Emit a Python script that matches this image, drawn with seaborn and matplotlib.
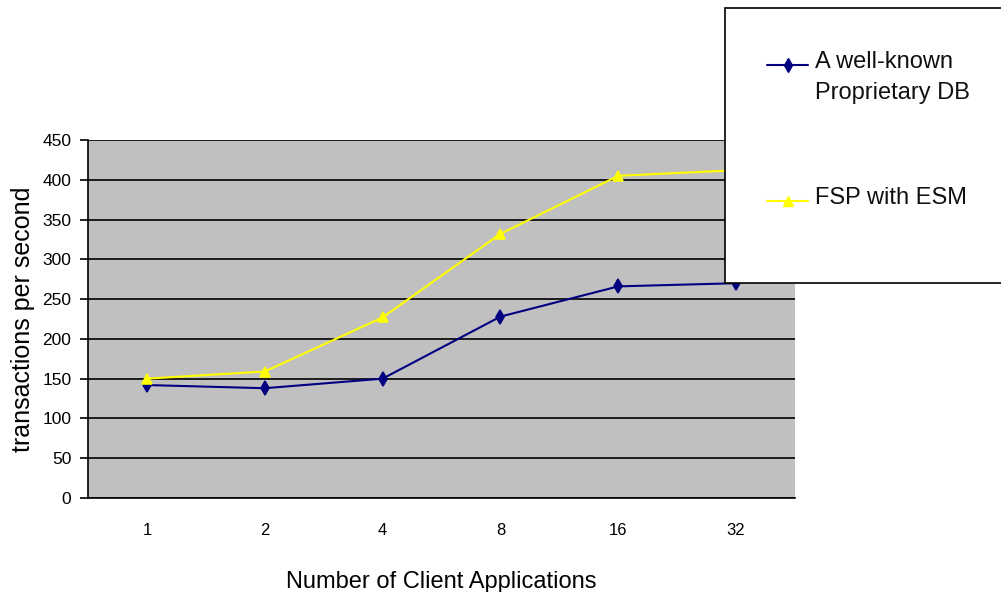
import matplotlib
matplotlib.use('Agg')
import matplotlib.pyplot as plt
from matplotlib.patches import Rectangle
from matplotlib.lines import Line2D
import seaborn as sns
import pandas as pd

# data
clients = ['1', '2', '4', '8', '16', '32']
proprietary_db = [142, 138, 150, 228, 266, 270]
fsp_esm = [150, 159, 227, 332, 405, 412]
series_names = ['A well-known\nProprietary DB', 'FSP with ESM']
series_colors = ['#000080', '#FFFF00']

df = pd.DataFrame({
    'clients': clients * 2,
    'tps': proprietary_db + fsp_esm,
    'series': [series_names[0]] * len(clients) + [series_names[1]] * len(clients),
})

sns.set_style('white')
plt.rcParams['font.family'] = ['Liberation Sans', 'DejaVu Sans']
plt.rcParams['text.color'] = 'black'
plt.rcParams['axes.labelcolor'] = 'black'
plt.rcParams['xtick.color'] = 'black'
plt.rcParams['ytick.color'] = 'black'

W, H = 1001, 592
fig = plt.figure(figsize=(W / 100, H / 100), dpi=100)
ax = fig.add_axes([88 / W, (H - 498) / H, (795 - 88) / W, (498 - 140) / H])
ax.set_facecolor('#C0C0C0')

sns.pointplot(data=df, x='clients', y='tps', hue='series', order=clients,
              palette=dict(zip(series_names, series_colors)), markers=['d', '^'],
              linestyles=['-', '-'], markersize=7.5, linewidth=1.5, ax=ax,
              legend=False, zorder=3)

ax.set_xlim(-0.5, len(clients) - 0.5)
ax.set_ylim(0, 450)
ax.set_yticks(range(0, 451, 50))
ax.yaxis.grid(True, color='black', linewidth=1.2)
ax.set_axisbelow(True)
for s in ['top', 'right']:
    ax.spines[s].set_visible(False)
for s in ['left', 'bottom']:
    ax.spines[s].set_color('black')
    ax.spines[s].set_linewidth(1.2)

ax.set_xticks(range(len(clients)))
ax.set_xticklabels(clients)
ax.set_xticks([i - 0.5 for i in range(len(clients) + 1)], minor=True)
ax.tick_params(axis='x', which='major', length=0, pad=18, labelsize=12)
ax.tick_params(axis='x', which='minor', length=7, width=1.2, color='black', direction='out')
ax.tick_params(axis='y', length=6, width=1.2, color='black', direction='out',
               labelsize=12.5, left=True, pad=6)

ax.set_xlabel('Number of Client Applications', fontsize=17, labelpad=24)
ax.set_ylabel('transactions per second', fontsize=18, labelpad=5)

# legend box sitting over the upper right part of the chart
box = Rectangle((725 / W, 1 - 283 / H), 1 - 725 / W + 0.01, (283 - 8) / H,
                transform=fig.transFigure, facecolor='white', edgecolor='black',
                linewidth=1.2, zorder=4)
fig.patches.append(box)

legend_y = [65, 201]
for name, color, marker, y in zip(series_names, series_colors, ['d', '^'], legend_y):
    fig.lines.append(Line2D([767 / W, 808 / W], [1 - y / H] * 2, transform=fig.transFigure,
                            color=color, linewidth=1.5, zorder=5))
    fig.lines.append(Line2D([788 / W], [1 - y / H], transform=fig.transFigure,
                            color=color, marker=marker, markersize=7.5, zorder=5))
    fig.text(815 / W, 1 - (y - 14) / H, name, fontsize=17, va='top', ha='left',
             linespacing=1.55, color='#111111', zorder=6)

fig.savefig('out.png', dpi=100)
